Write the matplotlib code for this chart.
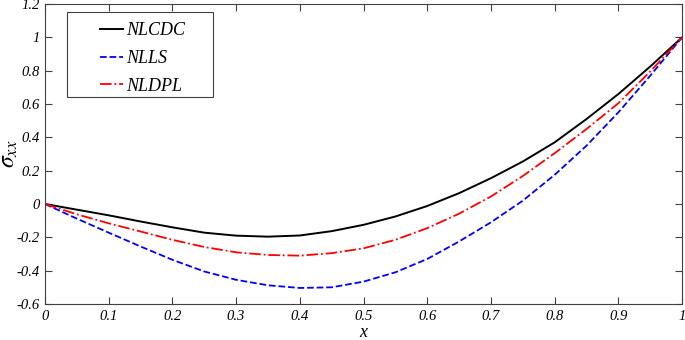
import matplotlib
matplotlib.use('Agg')
import matplotlib.pyplot as plt
from matplotlib.patches import Rectangle

x = [0, 0.05, 0.1, 0.15, 0.2, 0.25, 0.3, 0.35, 0.4, 0.45, 0.5,
     0.55, 0.6, 0.65, 0.7, 0.75, 0.8, 0.85, 0.9, 0.95, 1.0]
nlcdc = [0, -0.034, -0.068, -0.105, -0.14, -0.172, -0.19, -0.196, -0.189, -0.163, -0.125,
         -0.075, -0.012, 0.065, 0.155, 0.255, 0.37, 0.51, 0.66, 0.825, 1.0]
nlls = [0, -0.088, -0.172, -0.255, -0.335, -0.405, -0.455, -0.488, -0.504, -0.5, -0.466,
        -0.41, -0.33, -0.225, -0.11, 0.02, 0.175, 0.35, 0.55, 0.77, 1.0]
nldpl = [0, -0.062, -0.116, -0.165, -0.215, -0.258, -0.29, -0.306, -0.31, -0.295, -0.266,
         -0.215, -0.145, -0.058, 0.045, 0.168, 0.305, 0.45, 0.605, 0.795, 1.0]

xticks = [0, 0.1, 0.2, 0.3, 0.4, 0.5, 0.6, 0.7, 0.8, 0.9, 1]
xticklabels = ['0', '0.1', '0.2', '0.3', '0.4', '0.5', '0.6', '0.7', '0.8', '0.9', '1']
yticks = [-0.6, -0.4, -0.2, 0, 0.2, 0.4, 0.6, 0.8, 1, 1.2]
yticklabels = ['-0.6', '-0.4', '-0.2', '0', '0.2', '0.4', '0.6', '0.8', '1', '1.2']

plt.rcParams['font.family'] = 'Liberation Serif'
plt.rcParams['mathtext.fontset'] = 'stix'

fig = plt.figure(figsize=(6.85, 3.4), dpi=100)
ax = fig.add_axes([0.0657, 0.106, 0.93, 0.882])

ax.plot(x, nlcdc, '-', color='black', lw=1.4, label='NLCDC')
ax.plot(x, nlls, '--', color='blue', lw=1.3, label='NLLS')
ax.plot(x, nldpl, '-.', color='red', lw=1.3, label='NLDPL')

ax.set_xlim(0, 1)
ax.set_ylim(-0.6, 1.2)
ax.set_xticks(xticks)
ax.set_xticklabels(xticklabels, fontstyle='italic', fontsize=10.5)
ax.set_yticks(yticks)
ax.set_yticklabels(yticklabels, fontstyle='italic', fontsize=10.5)
ax.tick_params(direction='in', top=True, right=True, length=5, width=0.8,
               color='#404040', pad=4)
for s in ax.spines.values():
    s.set_color('#404040')
    s.set_linewidth(0.8)

ax.set_xlabel('x', fontstyle='italic', fontsize=13, labelpad=1)
ax.set_ylabel(r'$\sigma_{xx}$', fontsize=17, labelpad=-3)

# legend box drawn separately so it can be wider than the entries
ax.add_patch(Rectangle((0.0345, 0.69), 0.229, 0.283, transform=ax.transAxes,
                       facecolor='white', edgecolor='#404040', lw=0.8, zorder=4))
leg = ax.legend(loc='upper left', bbox_to_anchor=(0.086, 0.94), frameon=False,
                prop={'style': 'italic', 'size': 13}, handlelength=1.3,
                borderpad=0, borderaxespad=0, labelspacing=0.6, handletextpad=0.15)
leg.set_zorder(5)

plt.savefig('out.png', dpi=100)
